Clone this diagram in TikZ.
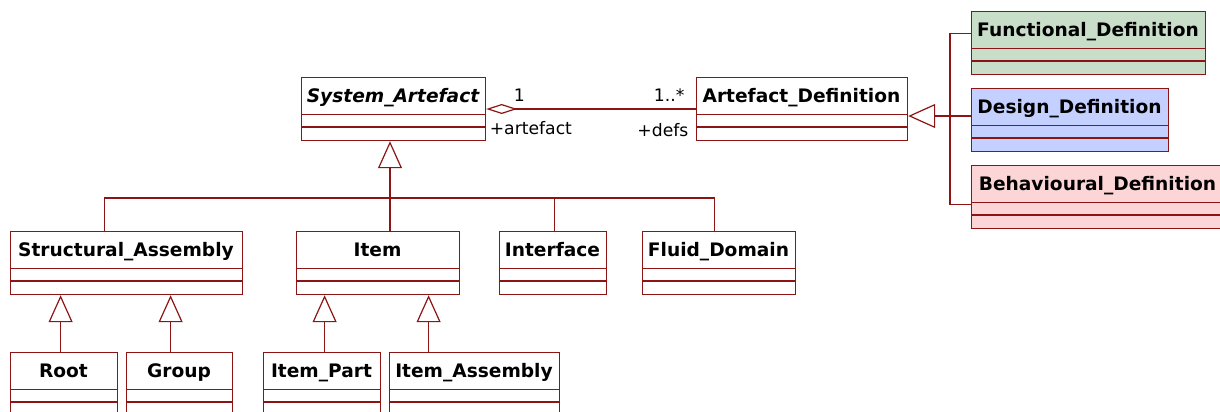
\documentclass[tikz,border=0pt]{standalone}
\usepackage{fontspec}
\setmainfont{DejaVu Sans}
\usetikzlibrary{arrows.meta,calc}

\definecolor{umlred}{RGB}{140,20,20}
\definecolor{funcgreen}{RGB}{200,222,200}
\definecolor{designblue}{RGB}{196,208,255}
\definecolor{behavpink}{RGB}{252,214,214}

% class box: [title options]{name}{fill}{left}{top}{right}{title}
\newcommand{\umlclass}[7][]{%
  \node[classbox, fill=#3, minimum width={(#6-#4)*0.5pt}] (#2) at (#4,#5) {};
  \node[classtitle, #1] (#2-title) at ({(#4+#6)/2},#5+18.75) {#7};
  \draw[classline] (#4,#5+37.5) -- (#6,#5+37.5) (#4,#5+50) -- (#6,#5+50);
}

\begin{document}
\begin{tikzpicture}[
    x=0.5pt, y=-0.5pt,
    classbox/.style={rectangle, draw=umlred, line width=0.6pt, anchor=north west, minimum height=31.5pt, inner sep=0pt},
    classtitle/.style={inner sep=0pt, text height=6.9pt, text depth=0pt, font=\fontsize{9.3}{11}\selectfont\bfseries},
    classline/.style={draw=umlred, line width=0.6pt},
    rolelabel/.style={inner sep=0pt, font=\fontsize{8.6}{10}\selectfont},
    tree/.style={draw=umlred, line width=0.6pt},
    gen/.style={tree, -{Triangle[length=13.5pt, width=12pt, fill=white]}},
    assoc/.style={tree, {Diamond[length=15.5pt, width=5pt, fill=white]}-}
]
\useasboundingbox (0,0) rectangle (1220,412);
\clip (0,0) rectangle (1220,412);

% Top row
\umlclass{sysart}{white}{301}{77}{485}{\itshape System\_Artefact}
\umlclass{artdef}{white}{696}{77}{907}{Artefact\_Definition}

% Definitions
\umlclass{funcdef}{funcgreen}{971}{11}{1205}{Functional\_Definition}
\umlclass{designdef}{designblue}{971}{88}{1168}{Design\_Definition}
\umlclass[xshift=-4pt]{behavdef}{behavpink}{971}{165}{1240}{Behavioural\_Definition}

% Artefact kinds
\umlclass{structasm}{white}{10}{231}{242}{Structural\_Assembly}
\umlclass{item}{white}{296}{231}{459}{Item}
\umlclass{iface}{white}{499}{231}{606}{Interface}
\umlclass{fluid}{white}{642}{231}{795}{Fluid\_Domain}

% Bottom row
\umlclass{root}{white}{10}{352}{117}{Root}
\umlclass{group}{white}{126}{352}{232}{Group}
\umlclass{itempart}{white}{263}{352}{380}{Item\_Part}
\umlclass{itemasm}{white}{389}{352}{559}{Item\_Assembly}

% Association
\draw[assoc] ([yshift=-16pt]sysart.north east) -- ([yshift=-16pt]artdef.north west)
    node[rolelabel, pos=0, anchor=west, xshift=13.5pt, yshift=7pt] (mult1) {1}
    node[rolelabel, pos=0, anchor=west, xshift=1.5pt, yshift=-9.5pt] (role1) {+artefact}
    node[rolelabel, pos=1, anchor=east, xshift=-5.5pt, yshift=7pt] (mult2) {1..*}
    node[rolelabel, pos=1, anchor=east, xshift=-3.5pt, yshift=-10.5pt] (role2) {+defs};

% Generalisation to System_Artefact
\coordinate (sabus) at (390,198);
\draw[gen] (sabus) -- (sabus |- sysart.south);
\draw[tree] (sabus) -| ([xshift=-11pt]structasm.north);
\draw[tree] (sabus) -- (sabus |- item.north);
\draw[tree] (sabus) -| ([xshift=0.75pt]iface.north);
\draw[tree] (sabus) -| ([xshift=-2.25pt]fluid.north);

% Sub-kinds
\draw[gen] ([xshift=-1.75pt]root.north) -- ([xshift=-1.75pt]root.north |- structasm.south);
\draw[gen] ([xshift=-4.5pt]group.north) -- ([xshift=-4.5pt]group.north |- structasm.south);
\draw[gen] ([xshift=1.25pt]itempart.north) -- ([xshift=1.25pt]itempart.north |- item.south);
\draw[gen] ([xshift=-23pt]itemasm.north) -- ([xshift=-23pt]itemasm.north |- item.south);

% Generalisation to Artefact_Definition
\coordinate (adbus) at (950,116);
\draw[gen] (adbus) -- (adbus -| artdef.east);
\draw[tree] (adbus) |- ([yshift=4.75pt]funcdef.west);
\draw[tree] (adbus) -- (adbus -| designdef.west);
\draw[tree] (adbus) |- ([yshift=-3.75pt]behavdef.west);

\end{tikzpicture}
\end{document}
